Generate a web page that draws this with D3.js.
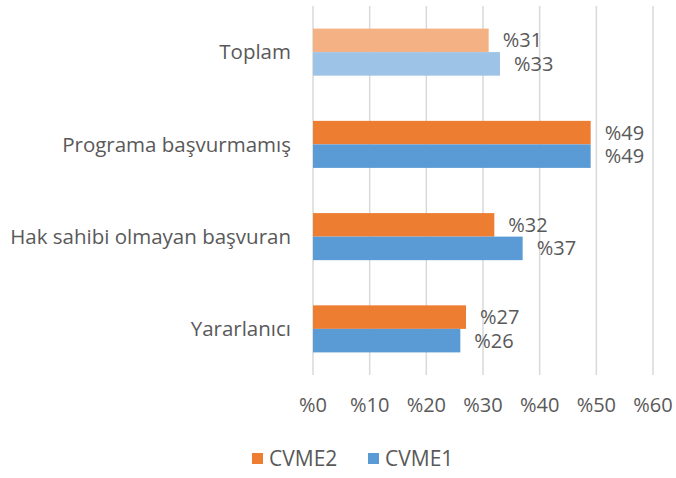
<!DOCTYPE html>
<html>
<head>
<meta charset="utf-8">
<script src="https://cdn.jsdelivr.net/npm/d3@7"></script>
<style>
  body { margin: 0; background: #fff; }
  text { font-family: "Open Sans", "Noto Sans", sans-serif; fill: #595959; }
</style>
</head>
<body>
<svg id="chart"></svg>
<script>
// data
const categories = ['Toplam', 'Programa başvurmamış', 'Hak sahibi olmayan başvuran', 'Yararlanıcı'];
const seriesNames = ['CVME2', 'CVME1'];
const cvme2 = [31, 49, 32, 27];
const cvme1 = [33, 49, 37, 26];
const xTicks = [0, 10, 20, 30, 40, 50, 60];

const width = 676, height = 478;
const margin = {top: 6, right: 23, bottom: 103, left: 313};

const svg = d3.select('#chart')
    .attr('width', width)
    .attr('height', height);

const chart = svg.append('g')
    .attr('transform', `translate(${margin.left}, ${margin.top})`);

const w = width - margin.left - margin.right;
const h = height - margin.top - margin.bottom;

const x = d3.scaleLinear().domain([0, 60]).range([0, w]);
const y = d3.scaleBand().domain(categories).range([0, h])
    .paddingInner(0.49).paddingOuter(0.245);
const sub = d3.scaleBand().domain(seriesNames).range([0, y.bandwidth()]);

const colors = {CVME2: '#ED7D31', CVME1: '#5B9BD5'};
const lightColors = {CVME2: '#F4B183', CVME1: '#9DC3E6'};

// grid
chart.selectAll('.grid')
    .data(xTicks)
    .join('line')
    .attr('x1', d => x(d)).attr('x2', d => x(d))
    .attr('y1', 0).attr('y2', h)
    .attr('stroke', '#d9d9d9')
    .attr('stroke-width', 1.5);

// x tick labels
chart.selectAll('.xlab')
    .data(xTicks)
    .join('text')
    .attr('x', d => x(d))
    .attr('y', h + 30)
    .attr('dy', '0.35em')
    .attr('text-anchor', 'middle')
    .style('font-size', '20px')
    .text(d => '%' + d);

// category labels
chart.selectAll('.ylab')
    .data(categories)
    .join('text')
    .attr('x', -22)
    .attr('y', d => y(d) + y.bandwidth() / 2)
    .attr('dy', '0.35em')
    .attr('text-anchor', 'end')
    .style('font-size', '20.5px')
    .text(d => d);

const rows = [];
categories.forEach((c, i) => {
  rows.push({cat: c, s: 'CVME2', v: cvme2[i], total: i === 0});
  rows.push({cat: c, s: 'CVME1', v: cvme1[i], total: i === 0});
});

chart.selectAll('.bar')
    .data(rows)
    .join('rect')
    .attr('x', x(0))
    .attr('y', d => y(d.cat) + sub(d.s))
    .attr('width', d => x(d.v) - x(0))
    .attr('height', sub.bandwidth())
    .attr('fill', d => d.total ? lightColors[d.s] : colors[d.s]);

chart.selectAll('.val')
    .data(rows)
    .join('text')
    .attr('x', d => x(d.v) + 14)
    .attr('y', d => y(d.cat) + sub(d.s) + sub.bandwidth() / 2)
    .attr('dy', '0.35em')
    .style('font-size', '20px')
    .text(d => '%' + d.v);

// legend
const legend = svg.append('g').attr('transform', 'translate(252, 453)');
const items = legend.selectAll('g')
    .data(seriesNames)
    .join('g')
    .attr('transform', (d, i) => `translate(${i * 116}, 0)`);
items.append('rect')
    .attr('width', 11).attr('height', 11)
    .attr('fill', d => colors[d]);
items.append('text')
    .attr('x', 17).attr('y', 6)
    .attr('dy', '0.35em')
    .style('font-size', '21px')
    .text(d => d);
</script>
</body>
</html>
